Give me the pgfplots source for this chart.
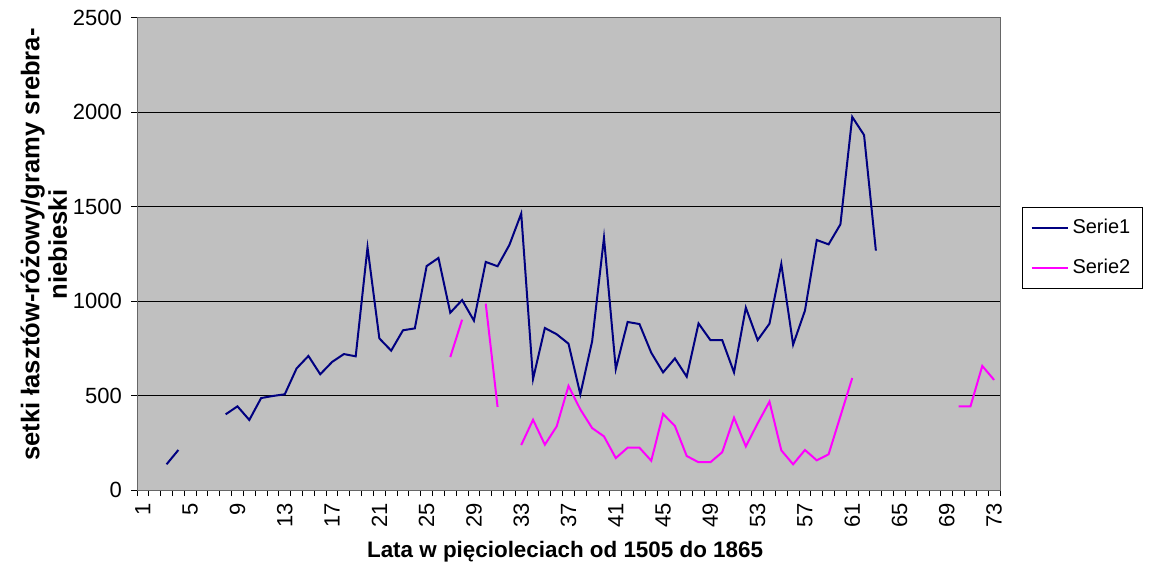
\documentclass[border=0pt]{standalone}
\usepackage{fontspec}
\setmainfont{Liberation Sans}
\usepackage{pgfplots}
\pgfplotsset{compat=1.18}
\usepackage{pgfplotstable}
\definecolor{bg}{HTML}{C0C0C0}
\definecolor{sone}{HTML}{000080}
\definecolor{stwo}{HTML}{FF00FF}
\pgfplotstableread{
x s1 s2
1 nan nan
2 nan nan
3 136 nan
4 212 nan
5 nan nan
6 nan nan
7 nan nan
8 401 nan
9 443 nan
10 371 nan
11 487 nan
12 498 nan
13 507 nan
14 644 nan
15 710 nan
16 613 nan
17 678 nan
18 720 nan
19 708 nan
20 1285 nan
21 803 nan
22 738 nan
23 846 nan
24 856 nan
25 1186 nan
26 1229 nan
27 939 704
28 1006 902
29 897 nan
30 1208 987
31 1185 440
32 1298 nan
33 1464 238
34 588 372
35 858 240
36 825 337
37 775 551
38 507 427
39 788 328
40 1336 284
41 641 169
42 890 224
43 879 224
44 727 155
45 623 403
46 697 339
47 600 180
48 882 147
49 794 147
50 794 200
51 623 383
52 966 231
53 794 353
54 881 468
55 1197 210
56 770 136
57 950 212
58 1324 157
59 1301 189
60 1407 391
61 1976 593
62 1880 nan
63 1268 nan
64 nan nan
65 nan nan
66 nan nan
67 nan nan
68 nan nan
69 nan nan
70 nan 443
71 nan 443
72 nan 657
73 nan 583
}\data
\begin{document}
\begin{tikzpicture}
\useasboundingbox (0,0) rectangle (577.5pt,283.5pt);
\begin{axis}[
  at={(68.5pt,38.5pt)}, anchor=south west,
  width=431.5pt, height=236pt, scale only axis,
  xmin=0.5, xmax=73.5, ymin=0, ymax=2500,
  xtick={1,5,...,73},
  minor xtick={0.5,1.5,...,73.5},
  major x tick style={draw=none},
  minor x tick style={black, line width=0.5pt},
  ytick={0,500,...,2500},
  major y tick style={black, line width=0.5pt},
  tick align=outside,
  major tick length=3pt, minor tick length=3pt,
  xtick pos=bottom, ytick pos=left,
  ymajorgrids,
  grid style={black, line width=0.5pt},
  axis background/.style={fill=bg},
  axis line style={draw=gray!80!black, line width=0.5pt},
  unbounded coords=jump,
  tick label style={font=\fontsize{11}{13}\selectfont},
  /pgf/number format/assume math mode=true,
  /pgf/number format/set thousands separator={},
  xticklabel style={rotate=90, anchor=east},
  yticklabel style={xshift=-1pt},
  xlabel={Lata w pięcioleciach od 1505 do 1865},
  xlabel style={font=\bfseries\fontsize{11.2}{13}\selectfont, at={(axis description cs:0.496,-0.131)}, anchor=center},
  ylabel={setki łasztów-różowy/gramy srebra-\\niebieski},
  ylabel style={font=\bfseries\fontsize{12.8}{13.8}\selectfont, align=center, at={(axis description cs:-0.108,0.52)}, anchor=center},
  legend style={at={(axis description cs:1.0255,0.5996)}, anchor=north west,
    draw=black, fill=white, font=\fontsize{10}{12}\selectfont,
    inner sep=4pt, row sep=7pt, line width=0.5pt},
  legend cell align=left,
  legend image code/.code={\draw[#1] (0pt,0pt) -- (18pt,0pt);},
]
\addplot[sone, line width=1pt] table[x=x, y=s1] {\data};
\addplot[stwo, line width=1pt] table[x=x, y=s2] {\data};
\legend{Serie1, Serie2}
\end{axis}
\end{tikzpicture}
\end{document}
